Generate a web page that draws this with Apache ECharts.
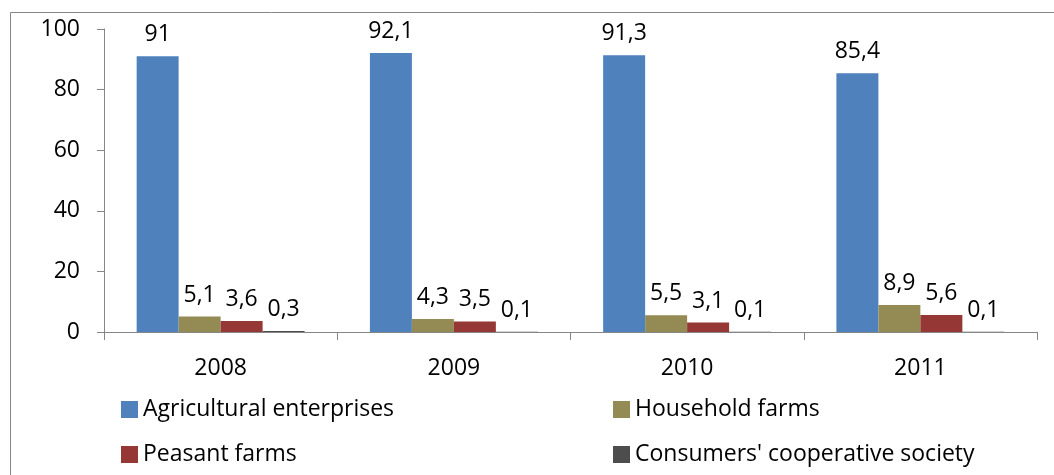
<!DOCTYPE html>
<html>
<head>
<meta charset="utf-8">
<script src="https://cdn.jsdelivr.net/npm/echarts@6/dist/echarts.min.js"></script>
<style>
html,body{margin:0;padding:0;background:#fff;}
#chart{width:1054px;height:475px;}
</style>
</head>
<body>
<div id="chart"></div>
<script>
const categories = ['2008', '2009', '2010', '2011'];
const agricultural = [91, 92.1, 91.3, 85.4];
const household = [5.1, 4.3, 5.5, 8.9];
const peasant = [3.6, 3.5, 3.1, 5.6];
const consumers = [0.3, 0.1, 0.1, 0.1];
const seriesNames = ['Agricultural enterprises', 'Household farms', 'Peasant farms', "Consumers' cooperative society"];
const colors = ['#4F81BD', '#948A54', '#953735', '#4D4D4D'];
const yTicks = [0, 20, 40, 60, 80, 100];

const FONT = 'Open Sans';
const FS = 23;
const chart = echarts.init(document.getElementById('chart'));
function mk(name, data, color) {
  return {
    name: name, type: 'bar', data: data,
    barGap: '0%', barCategoryGap: '28%',
    itemStyle: { color: color },
    label: {
      show: true, position: 'top', distance: 10,
      color: '#000', fontFamily: FONT, fontSize: FS,
      formatter: p => String(p.value).replace('.', ',')
    }
  };
}
chart.setOption({
  animation: false,
  color: colors,
  graphic: [{
    type: 'rect', shape: { x: 10.5, y: 12.5, width: 1100, height: 600 },
    style: { fill: 'none', stroke: '#868686', lineWidth: 1 }, silent: true
  }],
  grid: { left: 104, right: 17, top: 29, bottom: 143 },
  xAxis: {
    type: 'category', data: categories,
    axisLine: { lineStyle: { color: '#868686' } },
    axisTick: { show: true, length: 8, lineStyle: { color: '#868686' } },
    axisLabel: { color: '#000', fontFamily: FONT, fontSize: FS, margin: 25 }
  },
  yAxis: {
    type: 'value', min: yTicks[0], max: yTicks[yTicks.length - 1], interval: 20,
    axisLine: { show: true, lineStyle: { color: '#868686' } },
    axisTick: { show: true, length: 7, lineStyle: { color: '#868686' } },
    splitLine: { show: false },
    axisLabel: { color: '#000', fontFamily: FONT, fontSize: FS, margin: 24 }
  },
  legend: [
    { data: [seriesNames[0], seriesNames[2]], orient: 'vertical', left: 116, top: 393, itemGap: 22,
      itemWidth: 17, itemHeight: 17, icon: 'rect',
      textStyle: { color: '#000', fontFamily: FONT, fontSize: FS, padding: [0, 0, 0, 0] } },
    { data: [seriesNames[1], seriesNames[3]], orient: 'vertical', left: 608, top: 393, itemGap: 22,
      itemWidth: 17, itemHeight: 17, icon: 'rect',
      textStyle: { color: '#000', fontFamily: FONT, fontSize: FS, padding: [0, 0, 0, 0] } }
  ],
  series: [
    mk(seriesNames[0], agricultural, colors[0]),
    mk(seriesNames[1], household, colors[1]),
    mk(seriesNames[2], peasant, colors[2]),
    mk(seriesNames[3], consumers, colors[3])
  ]
});
</script>
</body>
</html>
